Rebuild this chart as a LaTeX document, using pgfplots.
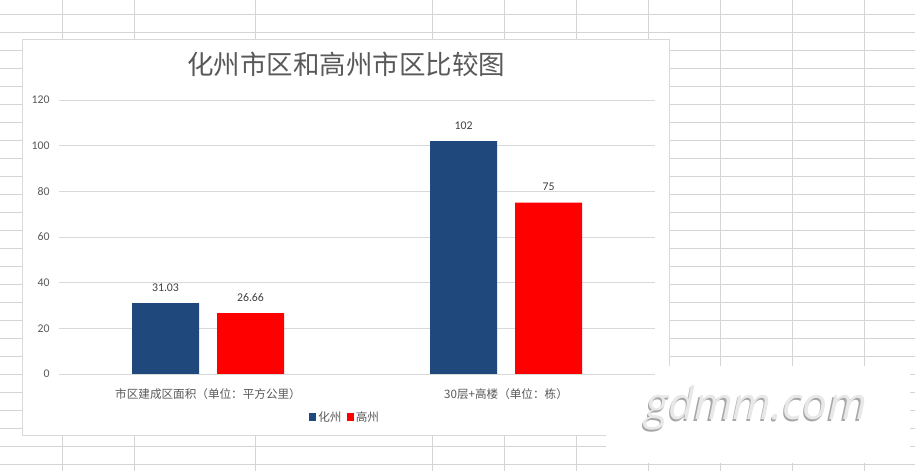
\documentclass[border=0pt]{standalone}
\usepackage{pgfplots}
\pgfplotsset{compat=1.18}
\usepackage{fontspec}
\setmainfont{Carlito}
\newfontfamily\cjk{Noto Sans CJK SC}
\newfontfamily\wm{Open Sans}
\definecolor{sheetgrid}{HTML}{D4D4D4}
\definecolor{chartborder}{HTML}{D9D9D9}
\definecolor{chartgrid}{HTML}{D9D9D9}
\definecolor{tickgray}{HTML}{595959}
\definecolor{labelgray}{HTML}{404040}
\definecolor{hzblue}{HTML}{1F497D}
\definecolor{gzred}{HTML}{FF0000}
\begin{document}
\begin{tikzpicture}[x=1pt,y=1pt]
\useasboundingbox (0,0) rectangle (915,471);
\fill[white] (0,0) rectangle (915,471);
\begin{scope}
\clip (0,0) rectangle (915,471);
\foreach \k in {0,...,25} {\draw[sheetgrid, line width=0.9pt] (0,{471-(14.3+18*\k)}) -- (915,{471-(14.3+18*\k)});}
\foreach \x in {62,134,255,432,504,576,648,720,792,864} {\draw[sheetgrid, line width=0.9pt] (\x,0) -- (\x,471);}
\end{scope}
% chart area
\filldraw[fill=white, draw=chartborder, line width=0.9pt] (22.3,35.5) rectangle (669,431.5);
% watermark box
\fill[white] (606,8) rectangle (910,105);
\node[anchor=base, font=\wm\itshape\fontsize{44.5}{44}\selectfont, text=black!35] at (754.8,49.8) {gdmm.com};
\node[anchor=base, font=\wm\itshape\fontsize{44.5}{44}\selectfont, text=black!9] at (756,51) {gdmm.com};
% title
\node[font=\cjk\fontsize{26.5}{30}\selectfont, text=tickgray] at (346,406.5) {化州市区和高州市区比较图};
\begin{axis}[
  at={(59pt,97pt)}, anchor=south west,
  scale only axis, width=596pt, height=274pt,
  ymin=0, ymax=120, xmin=-0.5, xmax=1.5,
  ytick={0,20,40,60,80,100,120},
  xtick={0,1},
  xticklabels={{\cjk 市区建成区面积（单位：平方公里）},{30{\cjk 层+高楼（单位：栋）}}},
  axis line style={draw=none},
  major tick style={draw=none},
  ymajorgrids,
  grid style={chartgrid, line width=0.9pt},
  ybar=18pt, bar width=67pt,
  /pgf/number format/assume math mode=true,
  yticklabel style={font=\fontsize{11.8}{12}\selectfont, text=tickgray, anchor=east, inner sep=0pt, xshift=-9.3pt},
  xticklabel style={font=\cjk\fontsize{11.6}{13}\selectfont, text=tickgray, anchor=center, inner sep=0pt, yshift=-16pt},
  nodes near coords,
  point meta=explicit symbolic,
  every node near coord/.append style={anchor=center, yshift=15.5pt, inner sep=0pt, font=\fontsize{11.8}{12}\selectfont, text=labelgray},
  legend columns=2,
  legend style={at={(0.48,-0.157)}, anchor=center, draw=none, fill=none,
    font=\cjk\fontsize{11.6}{12}\selectfont, text=tickgray, inner sep=0pt,
    /tikz/every even column/.append style={column sep=3pt}},
  legend cell align=left,
]
\addplot[fill=hzblue, draw=none, legend image code/.code={\fill[hzblue] (0pt,-3.65pt) rectangle (7.3pt,3.65pt);}]
  coordinates {(0,31.03)[31.03] (1,102)[102]};
\addplot[fill=gzred, draw=none, legend image code/.code={\fill[gzred] (0pt,-3.65pt) rectangle (7.3pt,3.65pt);}]
  coordinates {(0,26.66)[26.66] (1,75)[75]};
\legend{化州,高州}
\end{axis}
\end{tikzpicture}
\end{document}
